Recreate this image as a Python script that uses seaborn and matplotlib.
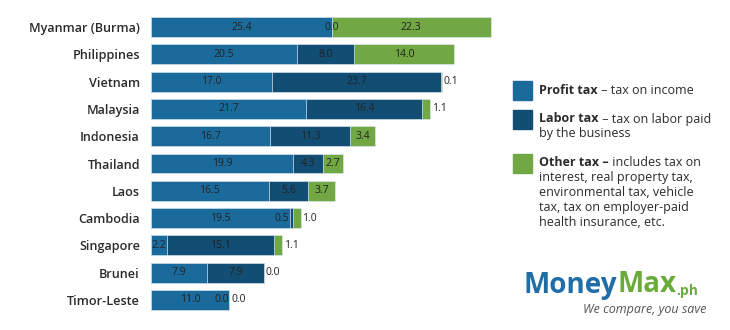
import numpy as np
import pandas as pd
import matplotlib
matplotlib.use("Agg")
import matplotlib.pyplot as plt
import seaborn as sns

countries = ["Myanmar (Burma)", "Philippines", "Vietnam", "Malaysia", "Indonesia",
             "Thailand", "Laos", "Cambodia", "Singapore", "Brunei", "Timor-Leste"]
profit_tax = [25.4, 20.5, 17.0, 21.7, 16.7, 19.9, 16.5, 19.5, 2.2, 7.9, 11.0]
labor_tax = [0.0, 8.0, 23.7, 16.4, 11.3, 4.3, 5.6, 0.5, 15.1, 7.9, 0.0]
other_tax = [22.3, 14.0, 0.1, 1.1, 3.4, 2.7, 3.7, 1.0, 1.1, 0.0, 0.0]

C_PROFIT = "#1b6a9c"
C_LABOR = "#124d74"
C_OTHER = "#71a844"
TXT = "#222222"

sns.set_theme(style="white")
plt.rcParams["font.family"] = ["Open Sans", "DejaVu Sans"]

df = pd.DataFrame({"country": countries, "profit": profit_tax,
                   "labor": labor_tax, "other": other_tax})
df["pl"] = df["profit"] + df["labor"]
df["total"] = df["pl"] + df["other"]

fig = plt.figure(figsize=(7.3, 3.3), dpi=100)
ax = fig.add_axes([0.207, 0.050, 0.468, 0.909])

kw = dict(y="country", orient="h", width=0.73, saturation=1, ax=ax,
          edgecolor="#dbe6ee", linewidth=0.5)
sns.barplot(data=df, x="total", color=C_OTHER, **kw)
sns.barplot(data=df, x="pl", color=C_LABOR, **kw)
sns.barplot(data=df, x="profit", color=C_PROFIT, **kw)

ax.set_xlim(0, 48)
ax.set_ylim(10.5, -0.5)
ax.set_xlabel("")
ax.set_ylabel("")
ax.set_xticks([])
for s in ax.spines.values():
    s.set_visible(False)
ax.tick_params(axis="y", length=0, pad=8)
for lab in ax.get_yticklabels():
    lab.set_fontsize(9.1)
    lab.set_fontweight(600)
    lab.set_color("#2b2b2b")

fs = 7.5
for i, r in df.iterrows():
    ax.text(r["profit"] / 2, i, f"{r['profit']:.1f}", ha="center", va="center",
            fontsize=fs, color=TXT)
    small_tail = r["other"] < 2
    if r["labor"] < 1 and small_tail:
        ax.text(r["profit"] - 0.1, i, f"{r['labor']:.1f}", ha="right", va="center",
                fontsize=fs, color=TXT)
    else:
        ax.text(r["profit"] + r["labor"] / 2, i, f"{r['labor']:.1f}", ha="center",
                va="center", fontsize=fs, color=TXT)
    if small_tail:
        ax.text(r["total"] + 0.25, i, f"{r['other']:.1f}", ha="left", va="center",
                fontsize=fs, color=TXT)
    else:
        ax.text(r["pl"] + r["other"] / 2, i, f"{r['other']:.1f}", ha="center",
                va="center", fontsize=fs, color=TXT)

# Legend (figure pixel coords -> fraction)
W, H = 730, 330
def fx(x): return x / W
def fy(y): return 1 - y / H

legend_items = [
    (C_PROFIT, 81, [("Profit tax", " – tax on income")]),
    (C_LABOR, 110, [("Labor tax", " – tax on labor paid"), ("", "by the business")]),
    (C_OTHER, 154, [("Other tax –", " includes tax on"), ("", "interest, real property tax,"),
                    ("", "environmental tax, vehicle"), ("", "tax, tax on employer-paid"),
                    ("", "health insurance, etc.")]),
]
for color, ytop, lines in legend_items:
    fig.patches.append(plt.Rectangle((fx(513), fy(ytop + 19)), 19 / W, 19 / H,
                                     transform=fig.transFigure, color=color))
    for k, (bold, rest) in enumerate(lines):
        yc = ytop + 9 + k * 15
        t = fig.text(fx(539), fy(yc), bold, fontsize=9, fontweight="bold",
                     color="#2b2b2b", va="center", ha="left")
        if bold:
            fig.canvas.draw()
            bb = t.get_window_extent()
            x2 = bb.x1 / fig.dpi / fig.get_size_inches()[0]
        else:
            x2 = fx(539)
        fig.text(x2, fy(yc), rest, fontsize=9, color="#2b2b2b", va="center", ha="left")

# Logo text
t1 = fig.text(fx(524), fy(285), "Money", fontsize=20, fontweight="bold",
              color="#1f6ea8", va="center", ha="left")
fig.canvas.draw()
bb = t1.get_window_extent()
x2 = bb.x1 / fig.dpi / 7.3
t2 = fig.text(x2, fy(285), "Max", fontsize=20, fontweight="bold",
              color="#6aab3c", va="center", ha="left")
fig.canvas.draw()
bb = t2.get_window_extent()
x3 = bb.x1 / fig.dpi / 7.3
fig.text(x3, fy(291), ".ph", fontsize=10, fontweight="bold",
         color="#6aab3c", va="center", ha="left")
fig.text(fx(706), fy(310), "We compare, you save", fontsize=9, style="italic",
         color="#555555", va="center", ha="right")

fig.savefig("out.png", dpi=100)
